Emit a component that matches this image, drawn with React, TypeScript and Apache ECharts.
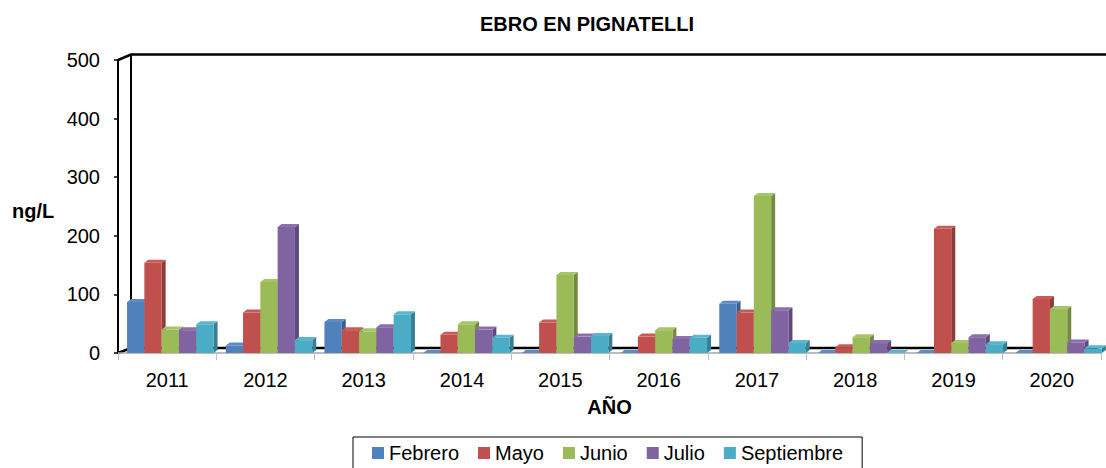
import React, { useEffect, useRef } from "react";
import * as echarts from "echarts";

const years = ["2011", "2012", "2013", "2014", "2015", "2016", "2017", "2018", "2019", "2020"];
const months = ["Febrero", "Mayo", "Junio", "Julio", "Septiembre"];

const febrero = [87, 13, 53, 0, 0, 0, 84, 0, 0, 0];
const mayo = [154, 69, 39, 31, 52, 28, 69, 10, 212, 92];
const junio = [40, 121, 37, 49, 133, 39, 268, 27, 17, 75];
const julio = [39, 215, 44, 40, 28, 24, 73, 17, 27, 18];
const septiembre = [49, 22, 66, 26, 29, 26, 17, 0, 15, 8];

const seriesValues = [febrero, mayo, junio, julio, septiembre];

const yTicks = [0, 100, 200, 300, 400, 500];

const frontColors = ["#4F81BD", "#C0504D", "#9BBB59", "#8064A2", "#4BACC6"];
const sideColors = ["#3A5F8C", "#8E3B39", "#728A42", "#5E4A78", "#377F92"];
const topColors = ["#5B8CC7", "#C85B58", "#A6C566", "#8B70AD", "#58B6CF"];

const FONT = "'Liberation Sans', Arial, sans-serif";

const GRID_LEFT = 118;
const GRID_TOP = 60;
const GRID_RIGHT = 5;
const GRID_BOTTOM = 115;
const W = 1106;
const H = 468;
const BOTTOM_Y = H - GRID_BOTTOM;
const DEPTH_X = 13;
const DEPTH_Y = -5.5;

export default function App() {
  const ref = useRef<HTMLDivElement>(null);

  useEffect(() => {
    if (!ref.current) return;
    const chart = echarts.init(ref.current, undefined, { renderer: "svg" });

    const dx = 4;
    const dy = -3;

    const series = months.map((m, si) => ({
      name: m,
      type: "custom",
      z: 2,
      itemStyle: { color: frontColors[si] },
      encode: { x: 0, y: 1 },
      data: seriesValues[si].map((v, i) => [i, v]),
      renderItem: (params: any, api: any) => {
        const ci = api.value(0);
        const val = api.value(1);
        const base = api.coord([ci, 0]);
        const top = api.coord([ci, val]);
        const band = api.size([1, 0])[0];
        const barW = band * 0.176;
        const start = base[0] - band / 2 + band * 0.092 + 0.4 * ci;
        const x0 = start + si * barW;
        const x1 = x0 + barW;
        const yb = base[1];
        const yt = top[1];
        return {
          type: "group",
          children: [
            {
              type: "polygon",
              shape: { points: [[x1, yt], [x1 + dx, yt + dy], [x1 + dx, yb + dy], [x1, yb]] },
              style: { fill: sideColors[si] },
            },
            {
              type: "rect",
              shape: { x: x0, y: yt, width: barW, height: yb - yt },
              style: { fill: frontColors[si] },
            },
            {
              type: "polygon",
              shape: { points: [[x0, yt], [x0 + dx, yt + dy], [x1 + dx, yt + dy], [x1, yt]] },
              style: { fill: topColors[si] },
            },
          ],
        };
      },
    }));

    const backX = GRID_LEFT + DEPTH_X;
    const backTop = GRID_TOP + DEPTH_Y;
    const backBottom = BOTTOM_Y + DEPTH_Y + 0.5;

    chart.setOption({
      animation: false,
      grid: { left: GRID_LEFT, top: GRID_TOP, right: GRID_RIGHT, bottom: GRID_BOTTOM, containLabel: false },
      xAxis: {
        type: "category",
        data: years,
        boundaryGap: true,
        name: "AÑO",
        nameLocation: "middle",
        nameGap: 44,
        nameTextStyle: { fontFamily: FONT, fontSize: 20, fontWeight: "bold", color: "#000" },
        axisLine: { show: true, lineStyle: { color: "#A6A6A6", width: 1.5 } },
        axisTick: { show: true, alignWithLabel: false, length: 7, lineStyle: { color: "#BFBFBF" } },
        axisLabel: { fontFamily: FONT, fontSize: 20, color: "#000", margin: 17 },
        splitLine: { show: false },
        z: 0,
      },
      yAxis: {
        type: "value",
        min: 0,
        max: 500,
        interval: 100,
        axisLine: { show: true, lineStyle: { color: "#000", width: 2 } },
        axisTick: { show: true, length: 4, lineStyle: { color: "#000", width: 1.5 } },
        axisLabel: {
          fontFamily: FONT,
          fontSize: 20,
          color: "#000",
          margin: 18,
          formatter: (v: number) => (yTicks.includes(v) ? String(v) : ""),
        },
        splitLine: { show: false },
      },
      legend: {
        data: months,
        left: 353,
        top: 437,
        orient: "horizontal",
        icon: "rect",
        itemWidth: 12,
        itemHeight: 12,
        itemGap: 19,
        padding: [6, 19, 10, 19],
        borderColor: "#000",
        borderWidth: 1,
        textStyle: { fontFamily: FONT, fontSize: 20, color: "#000" },
      },
      graphic: [
        {
          type: "text",
          z: 10,
          x: 587,
          y: 24,
          style: {
            text: "EBRO EN PIGNATELLI",
            font: `bold 20px ${FONT}`,
            fill: "#000",
            align: "center",
            verticalAlign: "middle",
            textAlign: "center",
            textVerticalAlign: "middle",
          },
        },
        {
          type: "text",
          z: 10,
          x: 12,
          y: 211,
          style: {
            text: "ng/L",
            font: `bold 20px ${FONT}`,
            fill: "#000",
            align: "left",
            verticalAlign: "middle",
            textAlign: "left",
            textVerticalAlign: "middle",
          },
        },
        {
          type: "polyline",
          z: 0,
          shape: { points: [[GRID_LEFT, GRID_TOP], [backX, backTop], [W, backTop]] },
          style: { stroke: "#000", lineWidth: 2.5, fill: null },
        },
        {
          type: "line",
          z: 0,
          shape: { x1: backX, y1: backTop, x2: backX, y2: backBottom },
          style: { stroke: "#000", lineWidth: 2 },
        },
        {
          type: "polyline",
          z: 0,
          shape: {
            points: [
              [GRID_LEFT, BOTTOM_Y],
              [backX, backBottom],
              [W - GRID_RIGHT - 8, backBottom],
              [W - GRID_RIGHT, BOTTOM_Y - 2],
            ],
          },
          style: { stroke: "#000", lineWidth: 2.5, fill: null },
        },
      ],
      series,
    });

    return () => {
      chart.dispose();
    };
  }, []);

  return <div ref={ref} style={{ position: "absolute", left: 0, top: 0, width: W, height: H }} />;
}
